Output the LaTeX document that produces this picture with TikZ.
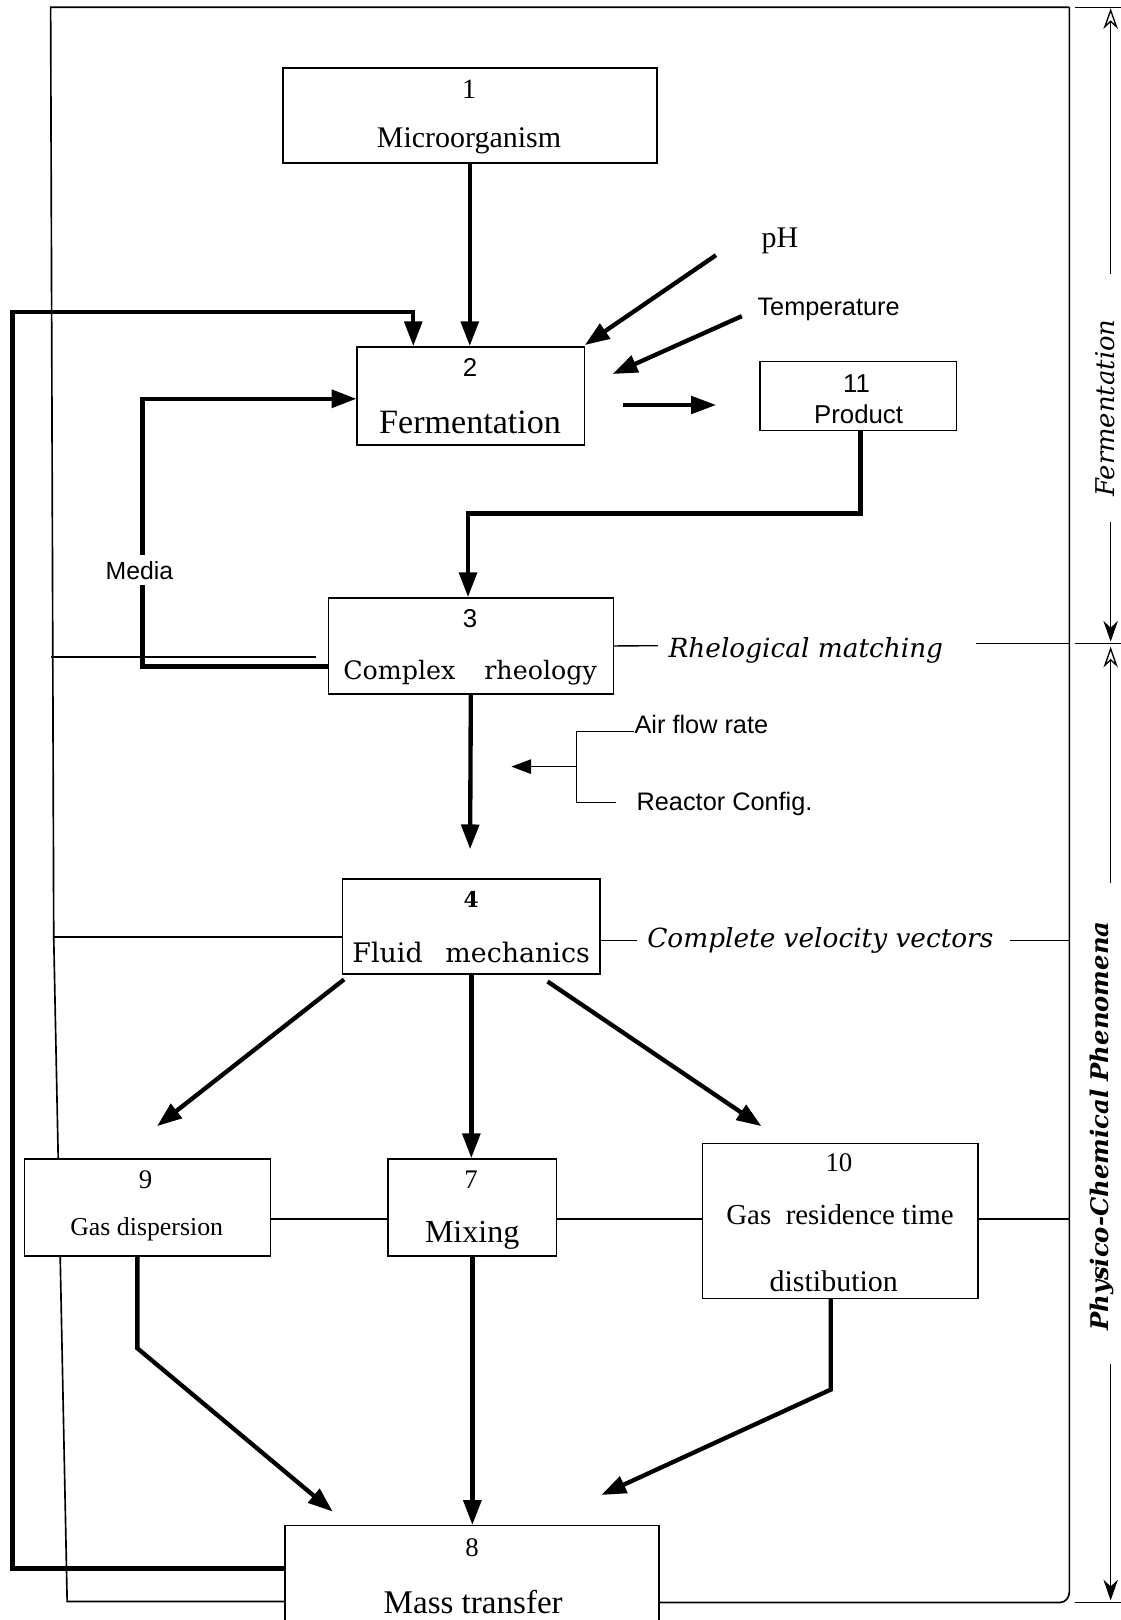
\documentclass[tikz,border=0pt]{standalone}
\usepackage{fontspec}
\setmainfont{Liberation Serif}
\newfontfamily\sansf{Liberation Sans}
\newfontfamily\centf{DejaVu Serif}
\usetikzlibrary{arrows.meta}
\newcommand\myfs[1]{\fontsize{#1}{#1}\selectfont}
\begin{document}
\begin{tikzpicture}[x=1pt,y=-1pt,
  boxst/.style={draw,line width=1.4pt,fill=white,inner sep=0pt,anchor=north west},
  txt/.style={inner sep=0pt,anchor=base},
  thinl/.style={line width=1.3pt},
  framel/.style={line width=1.6pt},
  thickl/.style={line width=4.2pt},
  medl/.style={line width=3.2pt},
  tip/.style={-{Triangle[length=24pt,width=17pt]}},
  smalltip/.style={-{Triangle[length=19pt,width=14pt]}},
  dimup/.style={-{Stealth[length=20pt,width=14pt,open]}},
  dimdown/.style={-{Stealth[length=20pt,width=14pt]}}
]
\useasboundingbox (0,0) rectangle (1085,1568);
\clip (0,0) rectangle (1085,1568);

% ---------- outer frame and separators ----------
\draw[framel] (1035,7) -- (49,7) -- (52,907) -- (65,1550) -- (275,1550);
\draw[framel] (1035,7) -- (1035,1541) to[out=-90,in=0] (1026,1551) -- (637,1551);
\draw[thinl] (49,636) -- (306,636);
\draw[thinl] (52,907) -- (331,907);

% ---------- boxes ----------
\node[boxst,minimum width=362pt,minimum height=92pt] (b1) at (273,65) {};
\node[boxst,minimum width=220pt,minimum height=95pt] (b2) at (345,335) {};
\node[boxst,minimum width=190pt,minimum height=67pt] (b11) at (735,349) {};
\node[boxst,minimum width=276pt,minimum height=93pt] (b3) at (317,578) {};
\node[boxst,minimum width=249pt,minimum height=92pt] (b4) at (331,850) {};
\node[boxst,minimum width=238pt,minimum height=94pt] (b9) at (23,1121) {};
\node[boxst,minimum width=163pt,minimum height=94pt] (b7) at (375,1121) {};
\node[boxst,minimum width=267pt,minimum height=150pt] (b10) at (679,1106) {};
\node[boxst,minimum width=362pt,minimum height=130pt] (b8) at (275,1476) {};

% ---------- box texts ----------
\node[txt,font=\myfs{27}] (t1a) at (454,95) {1};
\node[txt,font=\myfs{29}] (t1b) at (454,143) {Microorganism};
\node[txt,font=\sansf\myfs{25}] (t2a) at (455,364) {2};
\node[txt,font=\myfs{33}] (t2b) at (455,420) {Fermentation};
\node[txt,font=\sansf\myfs{25}] (t11a) at (829,380) {11};
\node[txt,font=\sansf\myfs{25}] (t11b) at (831,410) {Product};
\node[txt,font=\sansf\myfs{25}] (t3a) at (455,607) {3};
\node[txt,font=\centf\myfs{24.5}] (t3b) at (455,658) {Complex\hspace{28pt}rheology};
\node[txt,font=\centf\bfseries\myfs{21}] (t4a) at (456,878) {4};
\node[txt,font=\centf\myfs{26}] (t4b) at (456,932) {Fluid\hspace{22pt}mechanics};
\node[txt,font=\myfs{26}] (t9a) at (141,1150) {9};
\node[txt,font=\myfs{25}] (t9b) at (142,1196) {Gas dispersion};
\node[txt,font=\myfs{26}] (t7a) at (456,1150) {7};
\node[txt,font=\myfs{31}] (t7b) at (457,1203) {Mixing};
\node[txt,font=\myfs{26}] (t10a) at (812,1134) {10};
\node[txt,font=\myfs{28}] (t10b) at (813,1185) {Gas\hspace{14pt}residence time};
\node[txt,font=\myfs{29}] (t10c) at (807,1250) {distibution};
\node[txt,font=\myfs{26}] (t8a) at (457,1507) {8};
\node[txt,font=\myfs{32}] (t8b) at (458,1562) {Mass transfer};

% ---------- free labels ----------
\node[txt,font=\myfs{29}] (ph) at (755,240) {pH};
\node[txt,font=\sansf\myfs{24.5}] (temp) at (802,305) {Temperature};
\node[txt,font=\sansf\myfs{24}] (media) at (135,561) {Media};
\node[txt,font=\sansf\myfs{24.5},anchor=base west] (air) at (614,710) {Air flow rate};
\node[txt,font=\sansf\myfs{24.5},anchor=base west] (reac) at (616,784) {Reactor Config.};
\node[txt,font=\centf\itshape\myfs{25.5}] (rm) at (780,636) {Rhelogical matching};
\node[txt,font=\centf\itshape\myfs{25.5}] (cvv) at (794,917) {Complete velocity vectors};

% ---------- thin label connectors ----------
\coordinate (rmL) at (637,625);
\coordinate (rmR) at (945,623);
\coordinate (fr623) at (1035,623);
\draw[thinl] (b3.east) -- (rmL);
\draw[thinl] (rmR) -- (fr623);
\coordinate (b4e) at (580,910);
\coordinate (cvL) at (617,910);
\coordinate (cvR) at (978,910);
\coordinate (fr910) at (1035,910);
\draw[thinl] (b4e) -- (cvL);
\draw[thinl] (cvR) -- (fr910);
\coordinate (fr1180) at (1035,1180);
\draw[thinl] (b9.east |- 0,1180) -- (b7.west |- 0,1180);
\draw[thinl] (b7.east |- 0,1180) -- (b10.west |- 0,1180);
\draw[thinl] (b10.east |- 0,1180) -- (fr1180);

% ---------- thick connectors ----------
\draw[thickl,tip] (b1.south) -- (b1.south |- b2.north);
\coordinate (phs) at (693,247);
\coordinate (phe) at (566,334);
\draw[thickl,tip] (phs) -- (phe);
\coordinate (tps) at (718,306);
\coordinate (tpe) at (593,362);
\draw[thickl,tip] (tps) -- (tpe);
\coordinate (fps) at (603,392);
\coordinate (fpe) at (693,392);
\draw[medl,tip] (fps) -- (fpe);
\coordinate (pr1) at (833,497);
\coordinate (pr2) at (453,497);
\draw[thickl,tip] (b11.south -| pr1) -- (pr1) -- (pr2) -- (pr2 |- b3.north);
\coordinate (m1) at (317,645);
\coordinate (m2) at (138,645);
\coordinate (m3) at (138,386);
\coordinate (m4) at (345,386);
\draw[thickl] (m1) -- (m2) -- (138,566);
\draw[thickl,tip] (138,537) -- (m3) -- (m4);
\coordinate (f1) at (275,1518);
\coordinate (f2) at (12,1518);
\coordinate (f3) at (12,302);
\coordinate (f4) at (400,302);
\draw[thickl,tip] (f1) -- (f2) -- (f3) -- (f4) -- (f4 |- b2.north);
\coordinate (a34) at (455,822);
\draw[thickl,tip] (b3.south) -- (a34);
% bracket
\coordinate (br1) at (558,708);
\coordinate (br2) at (558,777);
\coordinate (brm) at (558,742);
\coordinate (brt) at (495,742);
\draw[thinl] (air.west |- br1) -- (br1) -- (br2) -- (596,777);
\draw[thinl,smalltip] (brm) -- (brt);
% from fluid mechanics
\coordinate (d9s) at (333,948);
\coordinate (d9e) at (152,1090);
\coordinate (d10s) at (530,950);
\coordinate (d10e) at (737,1090);
\draw[thickl,tip] (d9s) -- (d9e);
\draw[thickl,tip] (d10s) -- (d10e);
\draw[thickl,tip] (b4.south) -- (b4.south |- b7.north);
% into mass transfer
\coordinate (g1) at (133,1305);
\coordinate (g2) at (322,1463);
\draw[thickl,tip] (b9.south -| g1) -- (g1) -- (g2);
\draw[thickl,tip] (b7.south) -- (b7.south |- b8.north);
\coordinate (h1) at (804,1345);
\coordinate (h2) at (582,1447);
\draw[thickl,tip] (b10.south -| h1) -- (h1) -- (h2);

% ---------- right-hand dimension marks ----------
\draw[thinl] (1040,7) -- (1085,7);
\draw[thinl] (1040,623) -- (1085,623);
\draw[thinl] (1040,1551) -- (1085,1551);
\node[font=\centf\itshape\myfs{25},rotate=90,inner sep=0pt] (fermlab) at (1070,395) {Fermentation};
\node[font=\centf\bfseries\itshape\myfs{23.5},rotate=90,inner sep=0pt] (phylab) at (1067,1090) {Physico-Chemical Phenomena};
\coordinate (u1) at (1075,265);
\coordinate (u2) at (1075,8);
\coordinate (u3) at (1075,505);
\coordinate (u4) at (1075,621);
\coordinate (v1) at (1075,855);
\coordinate (v2) at (1075,626);
\coordinate (v3) at (1075,1320);
\coordinate (v4) at (1075,1549);
\draw[thinl,dimup] (u1) -- (u2);
\draw[thinl,dimdown] (u3) -- (u4);
\draw[thinl,dimup] (v1) -- (v2);
\draw[thinl,dimdown] (v3) -- (v4);
\end{tikzpicture}
\end{document}
